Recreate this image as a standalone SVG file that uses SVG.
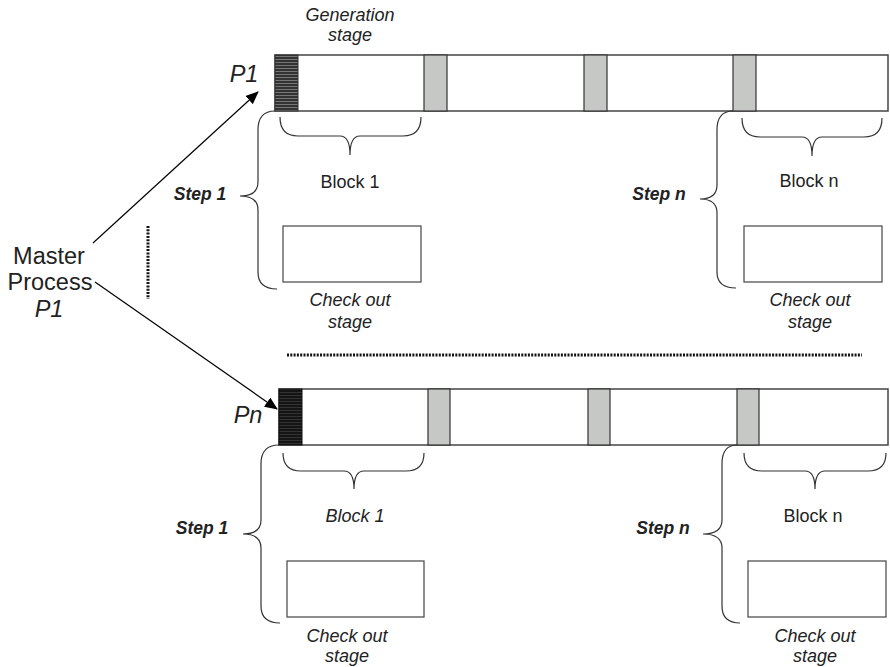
<svg xmlns="http://www.w3.org/2000/svg" width="890" height="667" viewBox="0 0 890 667">
<defs>
<pattern id="hatch1" width="4" height="3" patternUnits="userSpaceOnUse"><rect width="4" height="3" fill="#333"/><rect y="2" width="4" height="1" fill="#777"/></pattern>
<pattern id="hatch2" width="4" height="3" patternUnits="userSpaceOnUse"><rect width="4" height="3" fill="#151515"/><rect y="2" width="4" height="1" fill="#333"/></pattern>
<marker id="arr" markerWidth="13" markerHeight="11" refX="12" refY="5.5" orient="auto" markerUnits="userSpaceOnUse"><path d="M0,0 L13,5.5 L0,11 Z" fill="#000"/></marker>
<style>
.bar{fill:#fff;stroke:#444;stroke-width:1.5}
.sep{fill:#c6c8c6;stroke:#333;stroke-width:1.2}
.box{fill:#fff;stroke:#444;stroke-width:1.2}
.br{fill:none;stroke:#333;stroke-width:1.2}
.t{font-family:"Liberation Sans",Arial,sans-serif;font-size:18px;fill:#222;text-anchor:middle}
.i{font-style:italic}
.b{font-weight:bold;font-style:italic;font-size:17.5px}
.big{font-size:23.5px}
.dot{stroke:#111;stroke-width:3;stroke-dasharray:2 1.3}
</style>
</defs>
<g id="labels-top">
<text class="t i" x="350" y="21">Generation</text>
<text class="t i" x="350" y="41">stage</text>
</g>
<g id="master">
<text class="t big" x="49" y="264">Master</text>
<text class="t big" x="50" y="290">Process</text>
<text class="t big i" x="49" y="317">P1</text>
</g>
<g id="connectors">
<line x1="93" y1="243" x2="258" y2="92" stroke="#000" stroke-width="1.2" marker-end="url(#arr)"/>
<line x1="95" y1="282" x2="277" y2="409" stroke="#000" stroke-width="1.2" marker-end="url(#arr)"/>
<line class="dot" x1="148" y1="226" x2="148" y2="299"/>
<line class="dot" x1="287" y1="355" x2="862" y2="355"/>
</g>
<g id="process-p1">
<text class="t big i" x="244" y="82">P1</text>
<rect class="bar" x="275" y="55" width="613" height="56"/>
<rect x="275" y="55" width="23" height="56" fill="url(#hatch1)" stroke="#333" stroke-width="1"/>
<rect class="sep" x="424" y="55" width="23" height="56"/>
<rect class="sep" x="584" y="55" width="23" height="56"/>
<rect class="sep" x="733" y="55" width="23" height="56"/>
<path class="br" d="M280,117 Q280,136 298,136 L340,136 Q350,136 350,155 Q350,136 360,136 L403,136 Q421,136 421,117"/>
<text class="t" x="350" y="188">Block 1</text>
<path class="br" d="M275,111 Q258,111 258,130 L258,182 Q258,196 240,196 Q258,196 258,210 L258,272 Q258,289 277,289"/>
<text class="t b" x="200" y="200">Step 1</text>
<rect class="box" x="283" y="226" width="138" height="56"/>
<text class="t i" x="350" y="306">Check out</text>
<text class="t i" x="350" y="328">stage</text>
<path class="br" d="M742,118 Q742,137 760,137 L802,137 Q812,137 812,156 Q812,137 822,137 L864,137 Q882,137 882,118"/>
<text class="t" x="809" y="187">Block n</text>
<path class="br" d="M733,111 Q717,111 717,130 L717,185 Q717,199 700,199 Q717,199 717,213 L717,272 Q717,288 736,288"/>
<text class="t b" x="659" y="200">Step n</text>
<rect class="box" x="744" y="226" width="138" height="56"/>
<text class="t i" x="810" y="306">Check out</text>
<text class="t i" x="810" y="328">stage</text>
</g>
<g id="process-pn">
<text class="t big i" x="248" y="423">Pn</text>
<rect class="bar" x="279" y="389" width="609" height="56"/>
<rect x="279" y="389" width="23" height="56" fill="url(#hatch2)" stroke="#111" stroke-width="1"/>
<rect class="sep" x="428" y="389" width="22" height="56"/>
<rect class="sep" x="588" y="389" width="22" height="56"/>
<rect class="sep" x="737" y="389" width="22" height="56"/>
<path class="br" d="M283,453 Q283,471 301,471 L344,471 Q354,471 354,489 Q354,471 364,471 L406,471 Q424,471 424,453"/>
<text class="t i" x="355" y="522">Block 1</text>
<path class="br" d="M279,445 Q261,445 261,464 L261,520 Q261,534 243,534 Q261,534 261,548 L261,606 Q261,623 280,623"/>
<text class="t b" x="202" y="534">Step 1</text>
<rect class="box" x="287" y="561" width="137" height="56"/>
<text class="t i" x="347" y="642">Check out</text>
<text class="t i" x="347" y="662">stage</text>
<path class="br" d="M744,453 Q744,471 762,471 L805,471 Q815,471 815,489 Q815,471 825,471 L868,471 Q886,471 886,453"/>
<text class="t" x="813" y="522">Block n</text>
<path class="br" d="M737,445 Q722,445 722,464 L722,520 Q722,534 703,534 Q722,534 722,548 L722,606 Q722,623 740,623"/>
<text class="t b" x="663" y="534">Step n</text>
<rect class="box" x="748" y="561" width="138" height="56"/>
<text class="t i" x="815" y="642">Check out</text>
<text class="t i" x="815" y="662">stage</text>
</g>
</svg>
